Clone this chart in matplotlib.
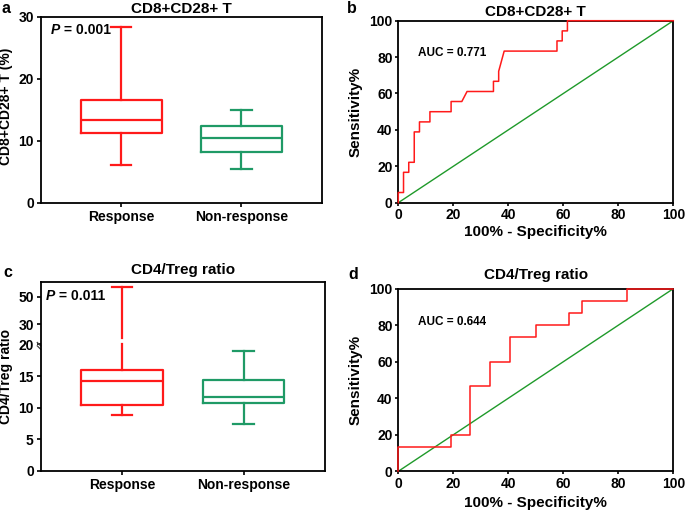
import numpy as np
import matplotlib
matplotlib.use('Agg')
import matplotlib.pyplot as plt

plt.rcParams['font.family'] = ['Liberation Sans', 'DejaVu Sans']
plt.rcParams['font.weight'] = 'bold'
plt.rcParams['axes.labelweight'] = 'bold'
plt.rcParams['axes.titleweight'] = 'bold'

groups = ['Response', 'Non-response']

# panel a: CD8+CD28+ T (%)  -> [whislo, q1, med, q3, whishi]
cd8_resp = [6.1, 11.2, 13.3, 16.5, 28.3]
cd8_nonresp = [5.5, 8.1, 10.5, 12.3, 14.9]

# panel c: CD4/Treg ratio
cd4_resp = [8.9, 10.4, 14.2, 16.0, 56.8]
cd4_nonresp = [7.5, 10.7, 11.7, 14.3, 18.9]

# panel b: ROC CD8+CD28+ T  (100% - specificity, sensitivity)
roc_b_x = [0, 0, 1.9, 1.9, 3.8, 3.8, 5.8, 5.8, 7.7, 7.7, 11.5, 11.5, 19.2, 19.2,
           23.1, 25.0, 34.6, 34.6, 36.5, 36.5, 38.5, 57.7, 57.7, 59.6, 59.6,
           61.5, 61.5, 100]
roc_b_y = [0, 5.6, 5.6, 16.7, 16.7, 22.2, 22.2, 38.9, 38.9, 44.4, 44.4, 50, 50, 55.6,
           55.6, 61.1, 61.1, 66.7, 66.7, 72.2, 83.3, 83.3, 88.9, 88.9, 94.4,
           94.4, 100, 100]

# panel d: ROC CD4/Treg ratio
roc_d_x = [0, 0, 19.0, 19.0, 26.2, 26.2, 33.3, 33.3, 40.5, 40.5, 50.0, 50.0,
           61.9, 61.9, 66.7, 66.7, 83.3, 83.3, 100]
roc_d_y = [0, 13.3, 13.3, 20.0, 20.0, 46.7, 46.7, 60.0, 60.0, 73.3, 73.3, 80.0,
           80.0, 86.7, 86.7, 93.3, 93.3, 100, 100]

RED = '#ff1a1a'
GREEN_BOX = '#1f9a66'
GREEN_DIAG = '#1f9a2a'

W, H = 685, 512
fig = plt.figure(figsize=(W / 100, H / 100), dpi=100)


def px_axes(l, t, r, b):
    return fig.add_axes([l / W, 1 - b / H, (r - l) / W, (b - t) / H])


def style(ax):
    for s in ax.spines.values():
        s.set_linewidth(1.3)
    ax.tick_params(labelsize=10, width=1.2, length=3, pad=2)


def stats(v, label):
    return dict(whislo=v[0], q1=v[1], med=v[2], q3=v[3], whishi=v[4], label=label)


def boxes(ax, resp, nonresp):
    bp = ax.bxp([stats(resp, groups[0]), stats(nonresp, groups[1])], positions=[1, 2],
                widths=0.67, capwidths=0.17, showfliers=False, patch_artist=False)
    for i, c in enumerate([RED, GREEN_BOX]):
        bp['boxes'][i].set(color=c, linewidth=1.6)
        bp['medians'][i].set(color=c, linewidth=1.6)
        for j in (2 * i, 2 * i + 1):
            bp['whiskers'][j].set(color=c, linewidth=1.6)
            bp['caps'][j].set(color=c, linewidth=1.6)
    ax.set_xlim(0.33, 2.67)
    return bp


def roc(ax, xs, ys, auc, title, pad):
    ax.plot([0, 100], [0, 100], color=GREEN_DIAG, lw=1.0, zorder=2)
    ax.plot(xs, ys, color=RED, lw=1.1, clip_on=False, zorder=3)
    ax.set_xlim(0, 100)
    ax.set_ylim(0, 100)
    ax.set_xticks(range(0, 101, 20))
    ax.set_yticks(range(0, 101, 20))
    ax.text(7.3, 82, 'AUC = ' + auc, fontsize=8.5, va='center')
    ax.set_title(title, fontsize=11, pad=pad)
    ax.set_ylabel('Sensitivity%', fontsize=11)
    ax.set_xlabel('100% - Specificity%', fontsize=11)
    style(ax)
    ax.tick_params(length=2, pad=2)


def p_label(ax, x, y, val):
    t = ax.text(x, y, 'P', fontsize=10, style='italic', transform=ax.transAxes, va='baseline')
    ax.annotate(' = ' + val, xy=(1, 0), xycoords=t, fontsize=10, va='bottom', ha='left')


# a
ax_a = px_axes(40.7, 16.7, 322, 202.7)
boxes(ax_a, cd8_resp, cd8_nonresp)
ax_a.set_ylim(0, 30)
ax_a.set_yticks([0, 10, 20, 30])
ax_a.set_title('CD8+CD28+ T', fontsize=11, pad=2.5)
ax_a.set_ylabel('CD8+CD28+ T (%)', fontsize=10)
ax_a.yaxis.set_label_coords(-0.1, 0.52)
p_label(ax_a, 0.036, 0.905, '0.001')
style(ax_a)

# b
ax_b = px_axes(398.3, 20.7, 673.3, 202.7)
roc(ax_b, roc_b_x, roc_b_y, '0.771', 'CD8+CD28+ T', 3.5)
ax_b.yaxis.set_label_coords(-0.128, 0.5)
ax_b.xaxis.set_label_coords(0.5, -0.125)

# c  (broken y axis at 20)
BREAK, GAP, K = 20.0, 1.05, 0.216


def fwd(y):
    y = np.asarray(y, dtype=float)
    return np.where(y <= BREAK, y, BREAK + GAP + (y - BREAK) * K)


def inv(z):
    z = np.asarray(z, dtype=float)
    return np.where(z <= BREAK, z,
                    np.where(z < BREAK + GAP, BREAK, BREAK + (z - BREAK - GAP) / K))


ax_c = px_axes(40.7, 282.3, 325, 471)
ax_c.set_yscale('function', functions=(fwd, inv))
bp = boxes(ax_c, cd4_resp, cd4_nonresp)
# split the upper response whisker across the break
bp['whiskers'][1].set_data([1, 1, np.nan, 1, 1],
                           [cd4_resp[3], BREAK, np.nan, BREAK + 1e-6, cd4_resp[4]])
ax_c.set_ylim(0, 60.5)
ax_c.set_yticks([0, 5, 10, 15, 20, 30, 50])
ax_c.yaxis.set_minor_locator(matplotlib.ticker.NullLocator())
ax_c.set_title('CD4/Treg ratio', fontsize=11, pad=6.3)
ax_c.set_ylabel('CD4/Treg ratio', fontsize=10)
ax_c.yaxis.set_label_coords(-0.098, 0.5)
p_label(ax_c, 0.018, 0.906, '0.011')
style(ax_c)
# break marks on the left spine
for dy in (0.0, 0.018):
    ax_c.plot([-0.012, 0.0], [0.663 + dy, 0.645 + dy], transform=ax_c.transAxes,
              color='#404040', lw=0.9, clip_on=False)

# d
ax_d = px_axes(398.3, 288.7, 673.3, 471.3)
roc(ax_d, roc_d_x, roc_d_y, '0.644', 'CD4/Treg ratio', 7.3)
ax_d.yaxis.set_label_coords(-0.128, 0.5)
ax_d.xaxis.set_label_coords(0.5, -0.135)

# panel letters
for letter, x, y in [('a', 2, 13), ('b', 347, 13), ('c', 3, 277), ('d', 348, 279)]:
    fig.text(x / W, 1 - y / H, letter, fontsize=11.5, va='baseline', ha='left')

fig.savefig('out.png', dpi=100)
